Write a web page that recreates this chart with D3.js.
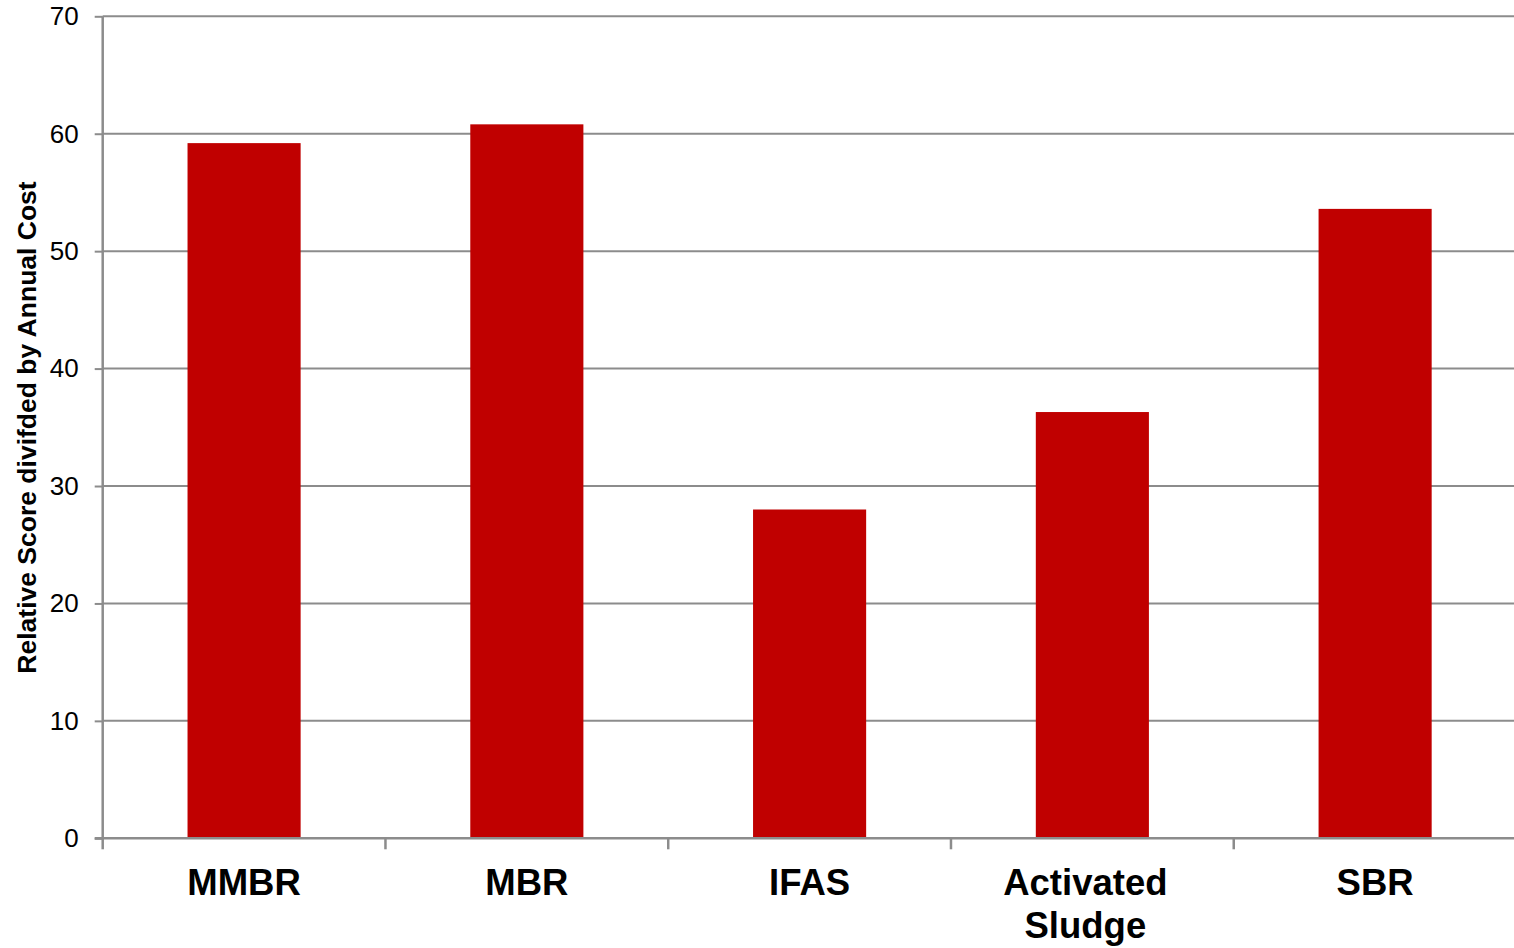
<!DOCTYPE html>
<html>
<head>
<meta charset="utf-8">
<script src="https://cdn.jsdelivr.net/npm/d3@7"></script>
<style>
  html, body { margin: 0; padding: 0; background: #fff; }
  svg { display: block; font-family: "Liberation Sans", Arial, sans-serif; }
</style>
</head>
<body>
<svg id="chart" width="1514" height="948"></svg>
<script>
// Treatment processes and their score-per-cost values
const categories = ["MMBR", "MBR", "IFAS", "Activated Sludge", "SBR"];
const values = [59.2, 60.8, 28.0, 36.3, 53.6];
const yTicks = [0, 10, 20, 30, 40, 50, 60, 70];
const yTitle = "Relative Score divifded by Annual Cost";

const width = 1514, height = 948;
const margin = { left: 102.7, right: -2.5, top: 16.3, bottom: 110 };

const svg = d3.select("#chart");
const gridColor = "#8c8c8c";

const x = d3.scaleBand()
  .domain(categories)
  .range([margin.left, width - margin.right])
  .paddingInner(0.6)
  .paddingOuter(0.3);

const y = d3.scaleLinear()
  .domain([0, 70])
  .range([height - margin.bottom + 0.3, margin.top]);

// horizontal gridlines
svg.append("g")
  .selectAll("line")
  .data(yTicks.filter(d => d > 0))
  .join("line")
  .attr("x1", margin.left)
  .attr("x2", width)
  .attr("y1", d => y(d))
  .attr("y2", d => y(d))
  .attr("stroke", gridColor)
  .attr("stroke-width", 2);

// bars
svg.append("g")
  .selectAll("rect")
  .data(categories.map((c, i) => ({ c, v: values[i] })))
  .join("rect")
  .attr("x", d => x(d.c))
  .attr("width", x.bandwidth())
  .attr("y", d => y(d.v))
  .attr("height", d => y(0) - y(d.v))
  .attr("fill", "#c00000");

// y axis
const yAxis = d3.axisLeft(y)
  .tickValues(yTicks)
  .tickSize(8)
  .tickPadding(16)
  .tickFormat(d3.format("d"));

const gy = svg.append("g")
  .attr("transform", `translate(${margin.left},0)`)
  .call(yAxis);
gy.select(".domain").attr("stroke", gridColor).attr("stroke-width", 2.5)
  .attr("d", `M0,${y(70)}V${y(0)}`);
gy.selectAll(".tick line").attr("stroke", gridColor).attr("stroke-width", 2);
gy.selectAll(".tick text")
  .attr("font-size", 26)
  .attr("fill", "#000")
  .attr("font-family", "Liberation Sans, Arial, sans-serif");

// x axis: baseline plus boundary ticks between categories
const xAxisG = svg.append("g");
xAxisG.append("line")
  .attr("x1", margin.left - 8)
  .attr("x2", width)
  .attr("y1", y(0))
  .attr("y2", y(0))
  .attr("stroke", gridColor)
  .attr("stroke-width", 2.5);

const step = x.step();
const boundaries = d3.range(categories.length).map(i => x(categories[i]) - x.paddingOuter() * step);
xAxisG.selectAll("line.tk")
  .data(boundaries)
  .join("line")
  .attr("class", "tk")
  .attr("x1", d => d)
  .attr("x2", d => d)
  .attr("y1", y(0))
  .attr("y2", y(0) + 11)
  .attr("stroke", gridColor)
  .attr("stroke-width", 2.5);

// category labels (two-word names wrap onto two lines, nudged left like a wrapped label with a trailing space)
const labels = xAxisG.selectAll("text.cat")
  .data(categories)
  .join("text")
  .attr("class", "cat")
  .attr("y", 895)
  .attr("text-anchor", "middle")
  .attr("font-size", 36.5)
  .attr("font-weight", "bold")
  .attr("fill", "#000");
labels.each(function(d) {
  const words = d.split(" ");
  const cx = x(d) + x.bandwidth() / 2 - (words.length > 1 ? 7 : 0);
  const t = d3.select(this);
  words.forEach((w, i) => {
    t.append("tspan")
      .attr("x", cx)
      .attr("dy", i === 0 ? 0 : 43)
      .text(w);
  });
});

// y axis title
svg.append("text")
  .attr("transform", `translate(36,427.5) rotate(-90)`)
  .attr("text-anchor", "middle")
  .attr("font-size", 26.5)
  .attr("font-weight", "bold")
  .attr("fill", "#000")
  .text(yTitle);
</script>
</body>
</html>
